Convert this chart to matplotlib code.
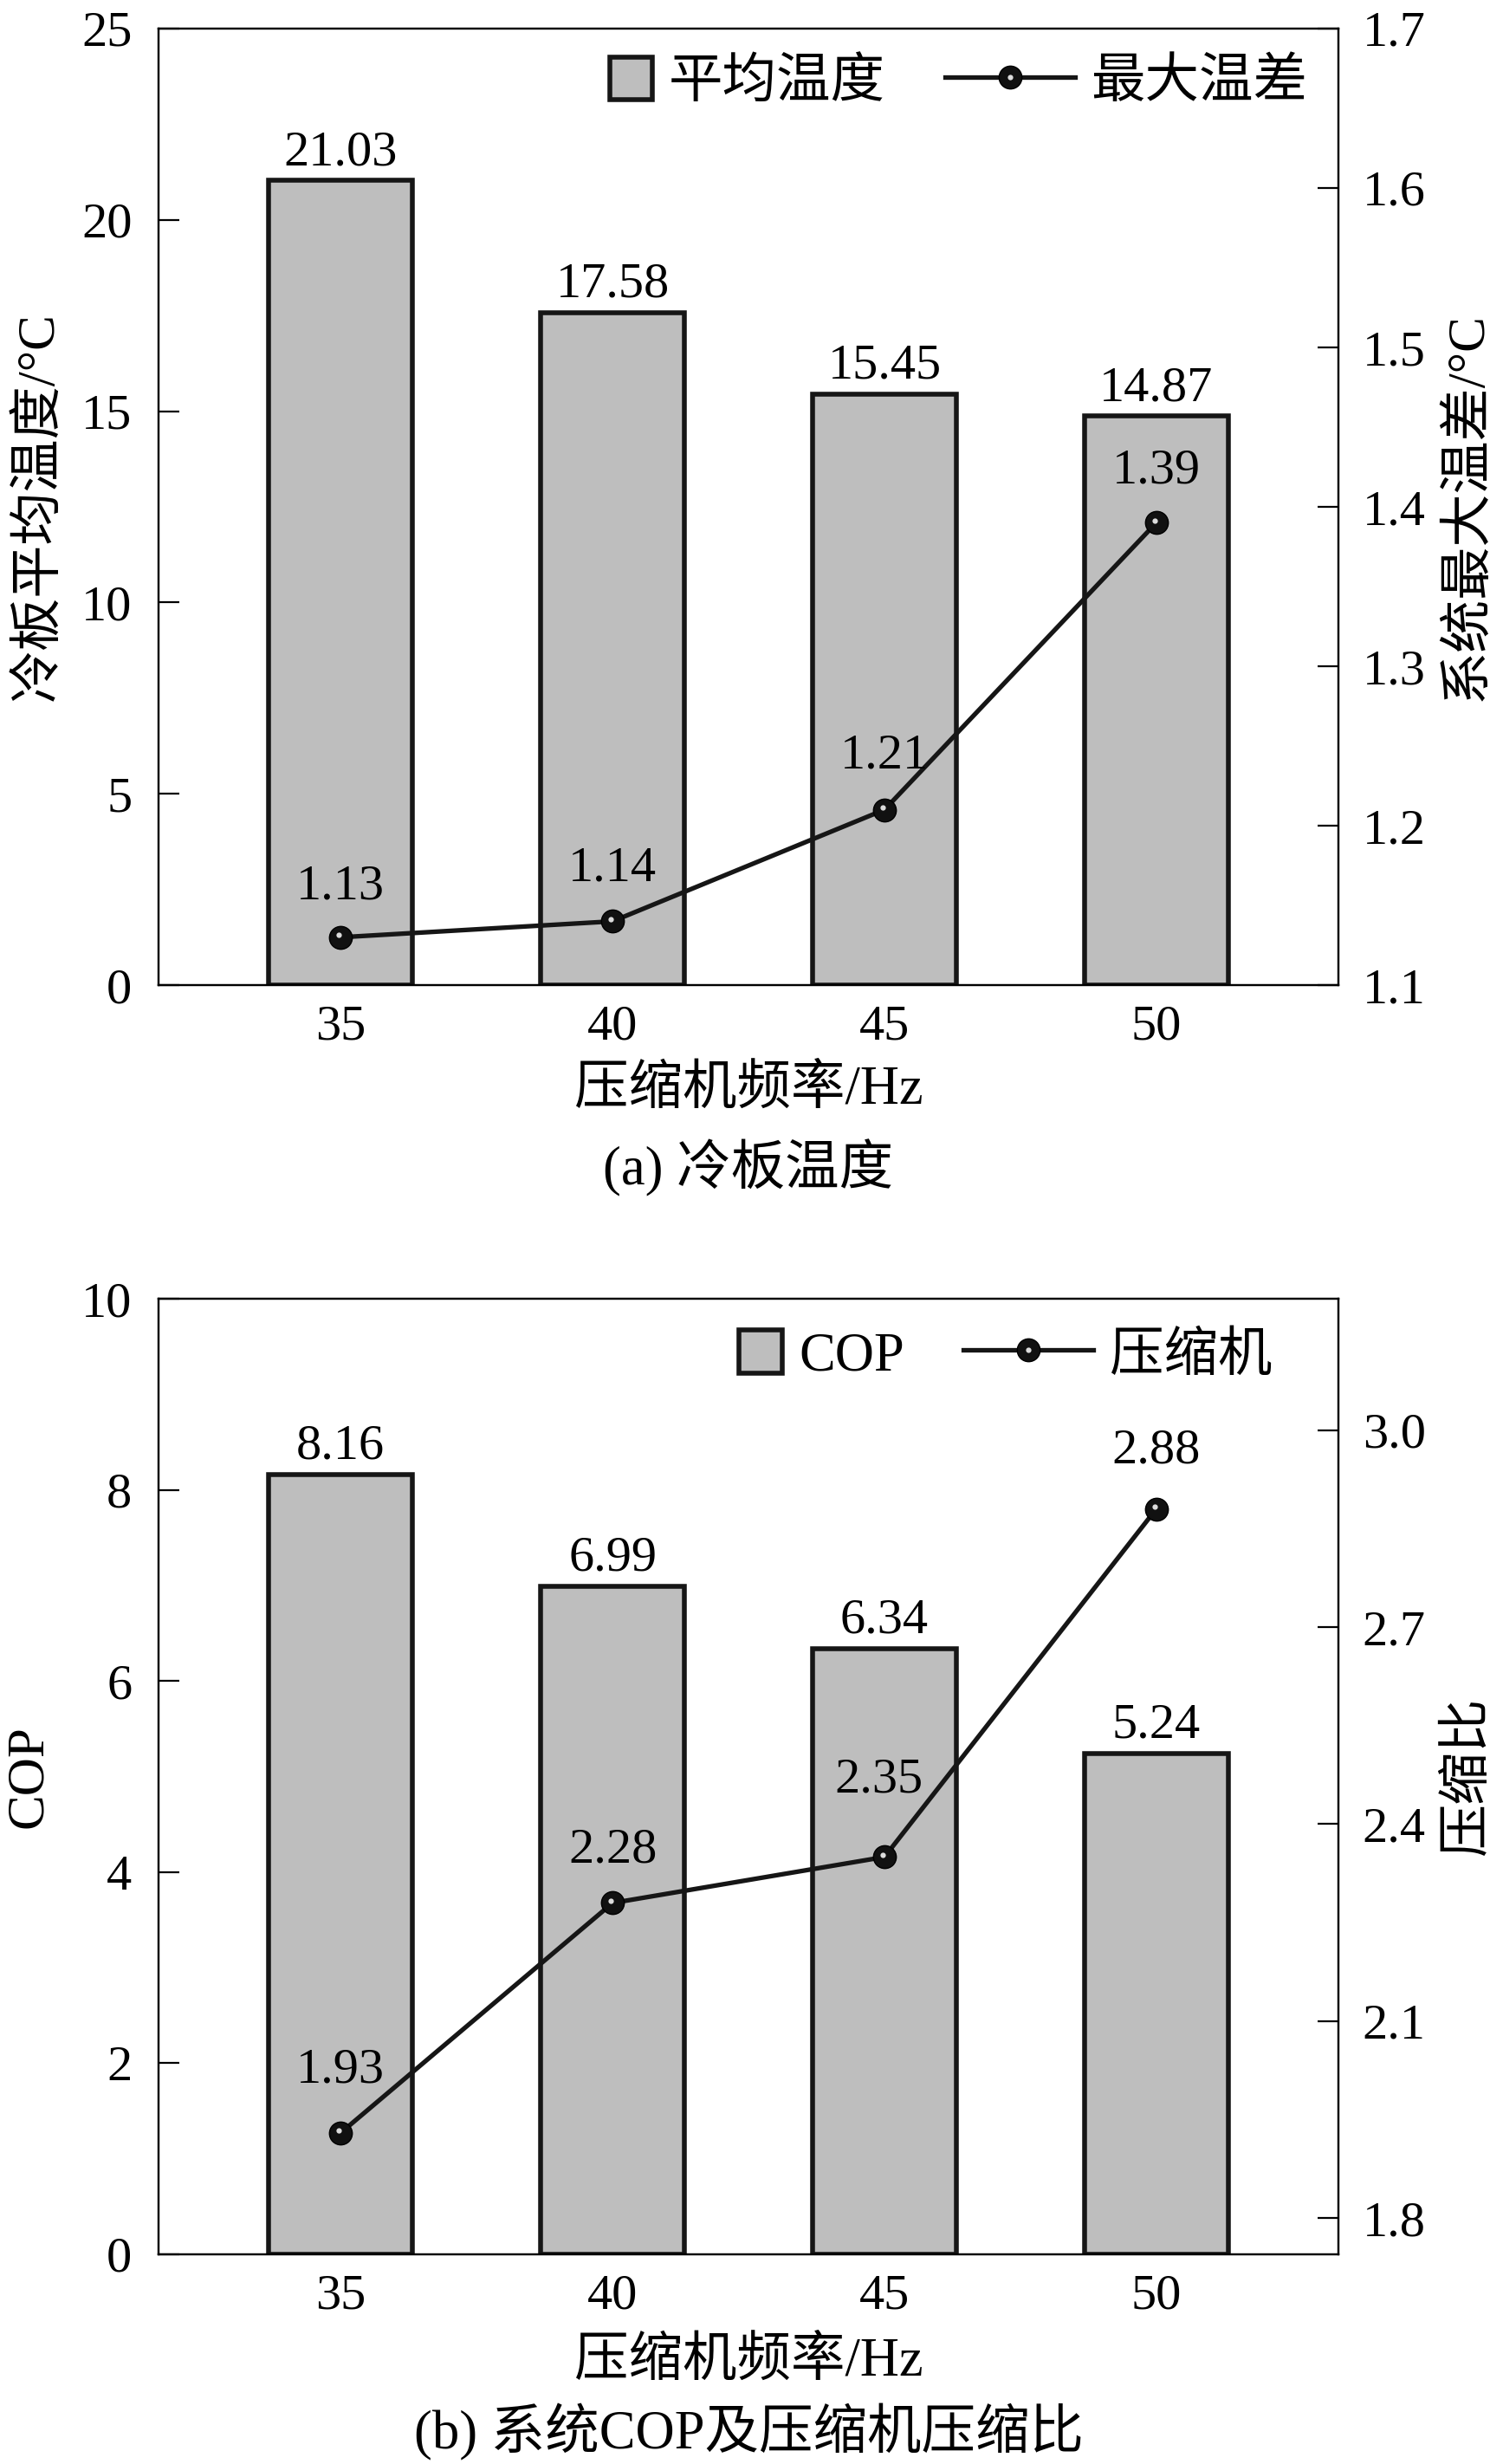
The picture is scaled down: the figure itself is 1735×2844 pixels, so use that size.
import matplotlib
matplotlib.use("Agg")
import matplotlib.pyplot as plt
from matplotlib.patches import Rectangle
from matplotlib.legend_handler import HandlerPatch, HandlerTuple
from matplotlib.transforms import offset_copy

plt.rcParams['font.family'] = ['Liberation Serif', 'Noto Sans CJK SC']

# data
freq = ['35', '40', '45', '50']
avg_temp = [21.03, 17.58, 15.45, 14.87]      # 冷板平均温度 / °C
max_diff = [1.13, 1.14, 1.21, 1.39]          # 系统最大温差 / °C
cop = [8.16, 6.99, 6.34, 5.24]               # COP
ratio = [1.93, 2.28, 2.35, 2.88]             # 压缩比

FS = 42        # numbers
FS_TXT = 45    # chinese labels / legend / captions
BAR_FC = '#bebebe'
EDGE = '#161616'


def square_patch(legend, orig_handle, xdescent, ydescent, width, height, fontsize):
    # square box sitting at the right end of the handle area
    return Rectangle((width - height - xdescent, -ydescent), height, height)


def panel(fig, rect, bar_vals, line_vals, ylim_l, yticks_l, ylim_r, yticks_r,
          ylabel_l, ylabel_r, ylab_x, leg_labels, leg_pos, xlab_y, caption, cap_y,
          lab_off):
    ax = fig.add_axes(rect)
    x = list(range(len(freq)))
    bars = ax.bar(x, bar_vals, width=0.53, color=BAR_FC, edgecolor=EDGE, linewidth=4, zorder=2)
    for xi, v in zip(x, bar_vals):
        ax.annotate(f'{v:.2f}', (xi, v), xytext=(0, 13), textcoords='offset points',
                    ha='center', va='baseline', fontsize=FS)
    ax.set_xlim(-0.67, 3.67)
    ax.set_ylim(*ylim_l)
    ax.set_yticks(yticks_l)
    ax.set_yticklabels([f'{t:g}' for t in yticks_l])
    ax.set_xticks(x)
    ax.set_xticklabels(freq)
    ax.tick_params(axis='y', direction='in', length=17, width=1.6, labelsize=FS, pad=22)
    ax.tick_params(axis='x', length=0, labelsize=FS, pad=16)
    for s in ax.spines.values():
        s.set_linewidth(1.6)
    ax.set_xlabel('压缩机频率/Hz', fontsize=FS_TXT, va='center')
    ax.xaxis.set_label_coords(0.5, xlab_y)
    ax.set_ylabel(ylabel_l, fontsize=FS_TXT - 1, va='center')
    ax.yaxis.set_label_coords(ylab_x[0], 0.5)

    ax2 = ax.twinx()
    line, = ax2.plot(x, line_vals, color=EDGE, linewidth=3.8, marker='o', markersize=19,
                     markerfacecolor='#111111', markeredgecolor='#000000', zorder=3)
    hl_tr = offset_copy(ax2.transData, fig=fig, x=-1.5, y=2.0, units='points')
    hl, = ax2.plot(x, line_vals, linestyle='none', marker='o', markersize=4.5,
                   markerfacecolor='#dcdcdc', markeredgecolor='none', transform=hl_tr, zorder=4)
    for xi, v, (dx, dy) in zip(x, line_vals, lab_off):
        ax2.annotate(f'{v:.2f}', (xi, v), xytext=(dx, dy), textcoords='offset points',
                     ha='center', va='baseline', fontsize=FS)
    ax2.set_ylim(*ylim_r)
    ax2.set_yticks(yticks_r)
    ax2.set_yticklabels([f'{t:.1f}' for t in yticks_r])
    ax2.tick_params(axis='y', direction='in', length=17, width=1.6, labelsize=FS, pad=20)
    for s in ax2.spines.values():
        s.set_linewidth(1.6)
    ax2.set_ylabel(ylabel_r, fontsize=FS_TXT - 1, va='center', rotation=90)
    ax2.yaxis.set_label_coords(ylab_x[1], 0.5)

    ax2.legend([bars.patches[0], (line, hl)], leg_labels, ncol=2, frameon=False,
               loc='center right', bbox_to_anchor=leg_pos, fontsize=FS_TXT,
               borderpad=0, borderaxespad=0, handlelength=2.4, handleheight=0.85,
               handletextpad=0.3, columnspacing=1.1,
               handler_map={Rectangle: HandlerPatch(patch_func=square_patch),
                            tuple: HandlerTuple(ndivide=1)})

    fig.text(0.498, cap_y, caption, ha='center', va='center', fontsize=FS_TXT)
    return ax, ax2


fig = plt.figure(figsize=(17.35, 28.44), dpi=100)

panel(fig, [0.1055, 0.6002, 0.785, 0.3882], avg_temp, max_diff,
      (0, 25), [0, 5, 10, 15, 20, 25], (1.1, 1.7), [1.1, 1.2, 1.3, 1.4, 1.5, 1.6, 1.7],
      '冷板平均温度/°C', '系统最大温差/°C', (-0.101, 1.110),
      ['平均温度', '最大温差'], (0.974, 0.943), -0.110, '(a) 冷板温度', 0.5258,
      [(0, 32), (0, 34), (0, 35), (0, 33)])

panel(fig, [0.1055, 0.0851, 0.785, 0.3878], cop, ratio,
      (0, 10), [0, 2, 4, 6, 8, 10], (1.745, 3.2), [1.8, 2.1, 2.4, 2.7, 3.0],
      'COP', '压缩比', (-0.110, 1.110),
      ['COP', '压缩机'], (0.944, 0.940), -0.113, '(b) 系统COP及压缩机压缩比', 0.0128,
      [(0, 42), (0, 34), (-5, 54), (0, 38)])

fig.savefig('out.png', dpi=100)
